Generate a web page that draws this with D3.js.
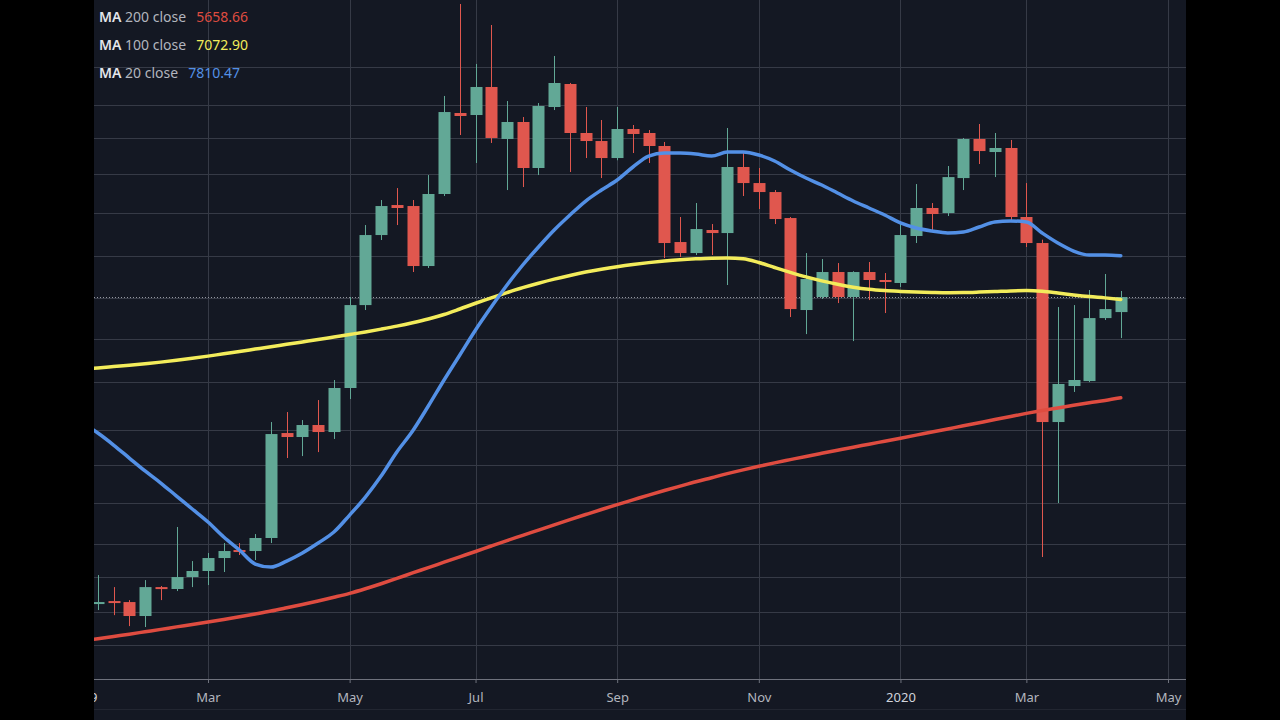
<!DOCTYPE html>
<html>
<head>
<meta charset="utf-8">
<script src="https://cdn.jsdelivr.net/npm/d3@7"></script>
<style>
  html, body { margin: 0; padding: 0; background: #000; }
  svg { display: block; }
  .legend { font: 14px "Noto Sans", sans-serif; }
  .axis text { font: 13px "Noto Sans", sans-serif; fill: #b2b5be; }
</style>
</head>
<body>
<div id="chart"></div>
<script>
const WIDTH = 1280, HEIGHT = 720;
const LEFT = 94, RIGHT = 1186, AXIS_Y = 679;

// weekly candles, first bar week of 2019-01-14
const firstCandle = Date.UTC(2019, 0, 14);
const opens = [3543, 3567, 3559, 3448, 3682, 3666, 3767, 3819, 3933, 4005, 3996, 4116, 5223, 5176, 5319, 5235, 5785, 6983, 8186, 8763,
  8743, 7630, 8985, 10798, 10749, 11455, 10180, 10580, 9531, 10946, 11533, 10319, 10133, 9749, 10413, 10319, 10019, 8057, 7858, 8280,
  8223, 9553, 9211, 9025, 8508, 6905, 7111, 7527, 7111, 7527, 7392, 7342, 8168, 8704, 8605, 9316, 10180, 9883, 9974, 8528,
  8039, 5355, 5811, 5877, 6780, 6873];
const highs = [3784, 3682, 3575, 3741, 3691, 4220, 3906, 3978, 4069, 4069, 4153, 5355, 5478, 5379, 5629, 5891, 7111, 8374, 8863, 9107,
  8863, 9380, 11224, 13829, 12069, 13185, 11096, 10700, 11045, 12290, 11560, 10946, 10628, 10946, 10508, 10389, 10111, 8528, 8803, 8393,
  10437, 9861, 9531, 9066, 8528, 7858, 7752, 7682, 7540, 7700, 7510, 8393, 9190, 8803, 9574, 10203, 10532, 10319, 10157, 9211,
  8100, 6952, 6983, 7226, 7493, 7210];
const lows = [3495, 3455, 3370, 3363, 3575, 3649, 3682, 3699, 3810, 3960, 3915, 4069, 4935, 4957, 5002, 5153, 5642, 6905, 8094, 8374,
  7527, 7596, 8944, 10272, 9640, 10088, 9066, 9128, 9380, 10871, 9445, 9749, 9316, 9700, 9861, 9640, 7770, 7787, 7823, 7823,
  7308, 8944, 8684, 8393, 6796, 6538, 7080, 7015, 6435, 7063, 6858, 7275, 8039, 8242, 8547, 9066, 9618, 9337, 8470, 7966,
  3942, 4456, 5733, 5863, 6750, 6479];
const closes = [3559, 3551, 3448, 3682, 3666, 3767, 3819, 3933, 3996, 3987, 4116, 5211, 5176, 5319, 5235, 5785, 6983, 8186, 8743, 8704,
  7630, 8985, 10822, 10725, 11455, 10203, 10580, 9531, 10971, 11559, 10319, 10133, 9749, 10413, 10296, 10019, 8039, 7858, 8298, 8223,
  9553, 9211, 9025, 8489, 6920, 7408, 7527, 7111, 7527, 7392, 7358, 8186, 8704, 8586, 9337, 10180, 9905, 9974, 8528, 8039,
  5355, 5838, 5891, 6780, 6920, 7111];

// moving averages, one value per week starting 2019-01-07
const maStart = Date.UTC(2019, 0, 7);
const ma20 = [5343, 5223, 5083, 4935, 4792, 4663, 4527, 4396, 4268, 4125, 4005, 3880, 3853, 3906, 3978, 4069, 4172, 4336, 4517, 4737,
  5003, 5247, 5553, 5891, 6235, 6599, 6952, 7308, 7648, 7967, 8280, 8567, 8843, 9067, 9275, 9553, 9794, 9861, 9861, 9839,
  9794, 9883, 9883, 9816, 9684, 9488, 9317, 9170, 9005, 8843, 8704, 8567, 8413, 8317, 8261, 8224, 8242, 8336, 8432, 8451,
  8432, 8224, 8039, 7894, 7823, 7823, 7810.47];
const ma100 = [6034, 6054, 6073, 6092, 6113, 6135, 6160, 6188, 6219, 6252, 6284, 6319, 6354, 6388, 6423, 6458, 6495, 6532, 6570, 6612,
  6657, 6708, 6766, 6835, 6921, 7012, 7099, 7183, 7264, 7338, 7407, 7469, 7526, 7575, 7618, 7656, 7689, 7717, 7740, 7756,
  7767, 7770, 7756, 7691, 7605, 7522, 7445, 7378, 7320, 7272, 7237, 7216, 7203, 7193, 7187, 7183, 7185, 7192, 7201, 7211,
  7216, 7205, 7177, 7146, 7119, 7098, 7072.90];
const ma200 = [3258, 3275, 3292, 3309, 3327, 3345, 3364, 3382, 3401, 3421, 3442, 3464, 3487, 3513, 3540, 3568, 3598, 3630, 3668, 3710,
  3755, 3802, 3848, 3896, 3944, 3992, 4042, 4092, 4141, 4191, 4241, 4291, 4341, 4391, 4440, 4488, 4537, 4584, 4630, 4676,
  4719, 4763, 4804, 4843, 4881, 4917, 4953, 4988, 5023, 5058, 5092, 5127, 5162, 5198, 5235, 5272, 5309, 5347, 5385, 5423,
  5461, 5496, 5529, 5562, 5594, 5624, 5658.66];

const tickDates = [Date.UTC(2019, 0, 7), Date.UTC(2019, 2, 4), Date.UTC(2019, 4, 6), Date.UTC(2019, 6, 1), Date.UTC(2019, 8, 2),
  Date.UTC(2019, 10, 4), Date.UTC(2020, 0, 6), Date.UTC(2020, 2, 2), Date.UTC(2020, 4, 4)];
const tickLabels = ["2019", "Mar", "May", "Jul", "Sep", "Nov", "2020", "Mar", "May"];
const priceGrid = [12000, 11000, 10200, 9400, 8600, 7800, 7100, 6460, 5860, 5260, 4860, 4460, 4060, 3770, 3480, 3230];

const legendNames = ["200 close", "100 close", "20 close"];
const legendValues = ["5658.66", "7072.90", "7810.47"];
const maColors = ["#df4c40", "#f3ec5b", "#5390e6"];

const UP = "#62a896", DOWN = "#e0574e";

const WEEK = 7 * 24 * 3600 * 1000;
const candles = opens.map((o, i) => ({
  date: new Date(firstCandle + i * WEEK), open: o, high: highs[i], low: lows[i], close: closes[i]
}));
const maSeries = [ma200, ma100, ma20].map(vals => vals.map((v, i) => ({ date: new Date(maStart + i * WEEK), value: v })));

const svg = d3.select("#chart").append("svg").attr("width", WIDTH).attr("height", HEIGHT);

svg.append("rect").attr("width", WIDTH).attr("height", HEIGHT).attr("fill", "#000");
svg.append("rect").attr("x", LEFT).attr("width", RIGHT - LEFT).attr("height", HEIGHT).attr("fill", "#141823");

const x = d3.scaleUtc()
  .domain([new Date(Date.UTC(2019, 2, 4)), new Date(Date.UTC(2020, 4, 4))])
  .range([208, 1168]);

const y = d3.scaleLog()
  .domain([2982, 13955])
  .range([AXIS_Y + 1, 0]);

svg.append("clipPath").attr("id", "plot")
  .append("rect").attr("x", LEFT).attr("y", 0).attr("width", RIGHT - LEFT).attr("height", AXIS_Y);

const plot = svg.append("g").attr("clip-path", "url(#plot)");

// grid
plot.append("g").selectAll("line").data(priceGrid).join("line")
  .attr("x1", LEFT).attr("x2", RIGHT)
  .attr("y1", d => Math.round(y(d)) + 0.5).attr("y2", d => Math.round(y(d)) + 0.5)
  .attr("stroke", "#363a46").attr("stroke-width", 1);

plot.append("g").selectAll("line").data(tickDates).join("line")
  .attr("x1", d => Math.round(x(d)) + 0.5).attr("x2", d => Math.round(x(d)) + 0.5)
  .attr("y1", 0).attr("y2", AXIS_Y)
  .attr("stroke", "#363a46").attr("stroke-width", 1);

// last price line
const lastClose = closes[closes.length - 1];
plot.append("line")
  .attr("x1", LEFT).attr("x2", RIGHT)
  .attr("y1", Math.round(y(lastClose)) + 0.5).attr("y2", Math.round(y(lastClose)) + 0.5)
  .attr("stroke", "#9598a1").attr("stroke-dasharray", "1,2").attr("stroke-width", 1);

// candles
const bar = plot.append("g").selectAll("g").data(candles).join("g")
  .attr("fill", d => d.close >= d.open ? UP : DOWN)
  .attr("stroke", d => d.close >= d.open ? UP : DOWN);

bar.append("line")
  .attr("x1", d => Math.round(x(d.date)) + 0.5).attr("x2", d => Math.round(x(d.date)) + 0.5)
  .attr("y1", d => y(d.high)).attr("y2", d => y(d.low))
  .attr("stroke-width", 1);

bar.append("rect")
  .attr("x", d => Math.round(x(d.date)) - 5.5)
  .attr("width", 12)
  .attr("y", d => y(Math.max(d.open, d.close)))
  .attr("height", d => Math.max(2, Math.abs(y(d.open) - y(d.close))))
  .attr("stroke", "none");

// moving averages
const line = d3.line().x(d => x(d.date)).y(d => y(d.value)).curve(d3.curveMonotoneX);
plot.append("g").selectAll("path").data(maSeries).join("path")
  .attr("d", line)
  .attr("fill", "none")
  .attr("stroke", (d, i) => maColors[i])
  .attr("stroke-width", 3.5)
  .attr("stroke-linejoin", "round")
  .attr("stroke-linecap", "round");

// time axis
svg.append("line")
  .attr("x1", LEFT).attr("x2", RIGHT)
  .attr("y1", AXIS_Y + 0.5).attr("y2", AXIS_Y + 0.5)
  .attr("stroke", "#6f727d");

svg.append("line")
  .attr("x1", LEFT).attr("x2", RIGHT)
  .attr("y1", 709.5).attr("y2", 709.5)
  .attr("stroke", "#222631");

const xAxis = svg.append("g")
  .attr("class", "axis")
  .attr("transform", `translate(0, ${AXIS_Y})`)
  .call(d3.axisBottom(x).tickValues(tickDates.map(d => new Date(d)))
    .tickFormat((d, i) => tickLabels[i]).tickSize(4).tickSizeOuter(0).tickPadding(10));

xAxis.select(".domain").remove();
xAxis.selectAll(".tick line").attr("stroke", "#6f727d");
xAxis.selectAll(".tick text")
  .attr("font-weight", (d, i) => /^\d+$/.test(tickLabels[i]) ? "bold" : null)
  .style("fill", (d, i) => /^\d+$/.test(tickLabels[i]) ? "#d1d4dc" : null);

// legend
const legend = svg.append("g").attr("class", "legend");
legendNames.forEach((name, i) => {
  const t = legend.append("text").attr("x", 99).attr("y", 22 + i * 28);
  t.append("tspan").attr("fill", "#e3e5eb").attr("font-weight", 600).text("MA");
  t.append("tspan").attr("fill", "#b2b5be").text(" " + name);
  t.append("tspan").attr("dx", 10).attr("fill", maColors[i]).text(legendValues[i]);
});

// black frame outside the chart
svg.append("rect").attr("x", 0).attr("width", LEFT).attr("height", HEIGHT).attr("fill", "#000");
svg.append("rect").attr("x", RIGHT).attr("width", WIDTH - RIGHT).attr("height", HEIGHT).attr("fill", "#000");
</script>
</body>
</html>
